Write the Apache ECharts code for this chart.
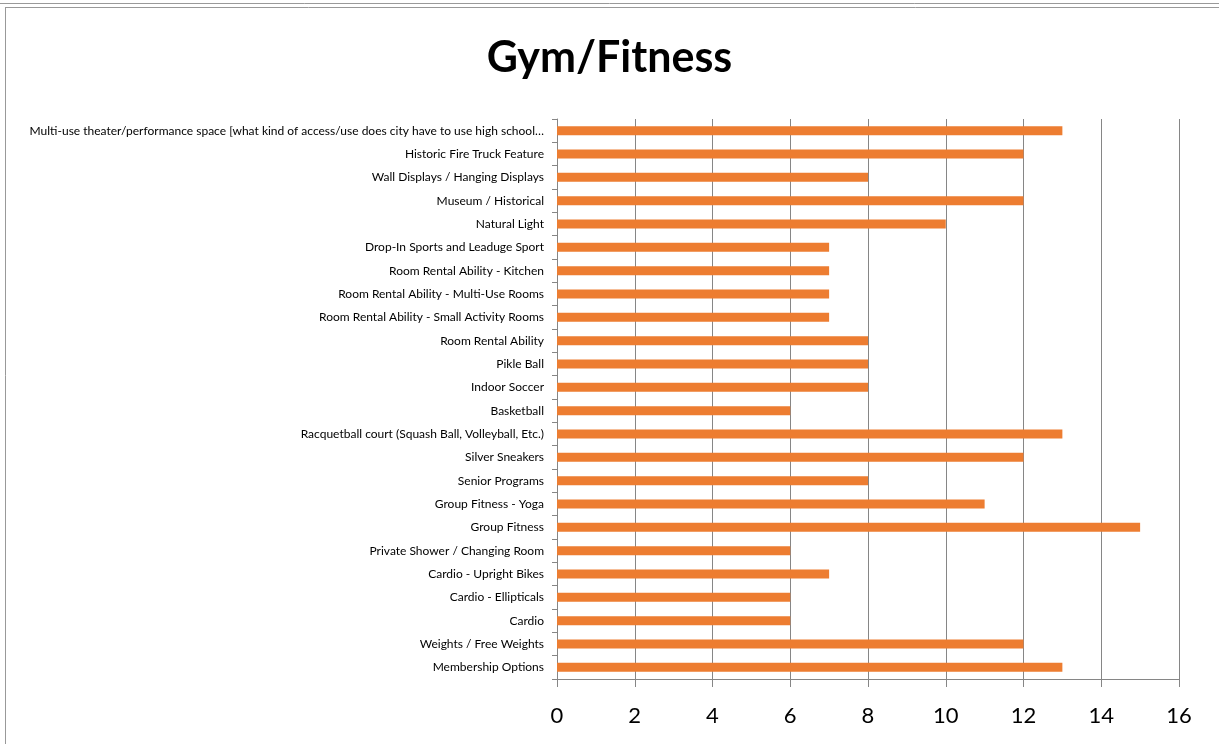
<!DOCTYPE html>
<html>
<head>
<meta charset="utf-8">
<script src="https://cdn.jsdelivr.net/npm/echarts@6/dist/echarts.min.js"></script>
<style>
html,body{margin:0;padding:0;background:#fff;}
#chart{width:1219px;height:744px;}
</style>
</head>
<body>
<div id="chart"></div>
<script>
const titleText = 'Gym/Fitness';
const categories = [
  'Membership Options',
  'Weights / Free Weights',
  'Cardio',
  'Cardio - Ellipticals',
  'Cardio - Upright Bikes',
  'Private Shower / Changing Room',
  'Group Fitness',
  'Group Fitness - Yoga',
  'Senior Programs',
  'Silver Sneakers',
  'Racquetball court (Squash Ball, Volleyball, Etc.)',
  'Basketball',
  'Indoor Soccer',
  'Pikle Ball',
  'Room Rental Ability',
  'Room Rental Ability - Small Activity Rooms',
  'Room Rental Ability - Multi-Use Rooms',
  'Room Rental Ability - Kitchen',
  'Drop-In Sports and Leaduge Sport',
  'Natural Light',
  'Museum / Historical',
  'Wall Displays / Hanging Displays',
  'Historic Fire Truck Feature',
  'Multi-use theater/performance space [what kind of access/use does city have to use high school\u2026'
];
const values = [13, 12, 6, 6, 7, 6, 15, 11, 8, 12, 13, 6, 8, 8, 8, 7, 7, 7, 7, 10, 12, 8, 12, 13];
const xMin = 0, xMax = 16, xStep = 2;

const chart = echarts.init(document.getElementById('chart'), null, {renderer: 'canvas'});
const FONT = 'Lato, "Open Sans", sans-serif';
chart.setOption({
  animation: false,
  backgroundColor: '#fff',
  title: {
    text: titleText,
    left: 'center',
    top: 32,
    textStyle: {fontFamily: FONT, fontSize: 43, fontWeight: 'bold', color: '#000'}
  },
  graphic: [
    {type: 'line', shape: {x1: 0, y1: 3.5, x2: 1219, y2: 3.5}, style: {stroke: '#999', lineWidth: 1}},
    {type: 'line', shape: {x1: 5, y1: 7.5, x2: 1219, y2: 7.5}, style: {stroke: '#999', lineWidth: 1}},
    {type: 'line', shape: {x1: 5.5, y1: 7, x2: 5.5, y2: 744}, style: {stroke: '#999', lineWidth: 1}}
  ],
  grid: {left: 557, right: 40, top: 119, bottom: 65, containLabel: false},
  xAxis: {
    type: 'value',
    min: xMin, max: xMax, interval: xStep,
    axisLine: {show: true, lineStyle: {color: '#868686', width: 1}},
    axisTick: {show: true, length: 8, lineStyle: {color: '#868686'}},
    splitLine: {show: true, lineStyle: {color: '#868686', width: 1}},
    axisLabel: {fontFamily: FONT, fontSize: 22, color: '#000', margin: 26}
  },
  yAxis: {
    type: 'category',
    data: categories,
    axisLine: {show: true, lineStyle: {color: '#868686', width: 1}},
    axisTick: {show: true, length: 5, lineStyle: {color: '#868686'}},
    axisLabel: {fontFamily: FONT, fontSize: 12, color: '#000', margin: 13, interval: 0}
  },
  series: [{
    type: 'bar',
    data: values,
    barWidth: 9,
    itemStyle: {color: '#ED7D31'}
  }]
});
</script>
</body>
</html>
